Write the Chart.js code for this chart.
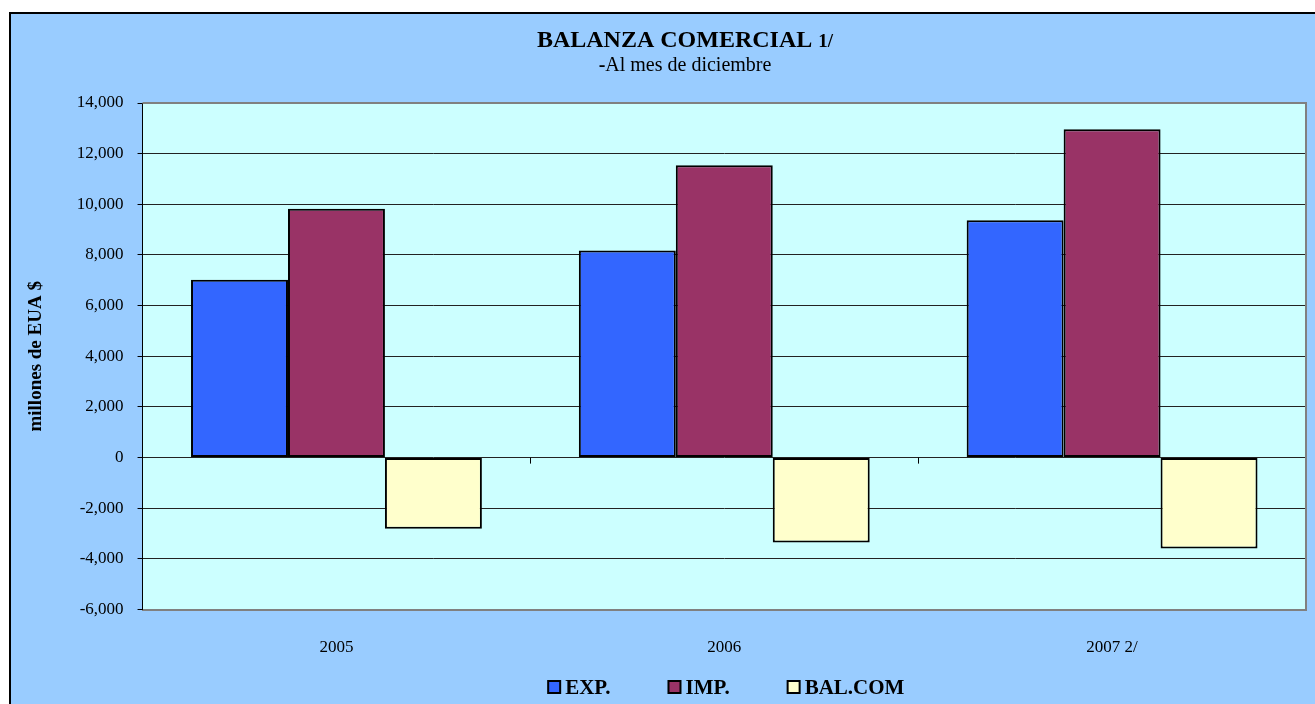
<!DOCTYPE html>
<html>
<head>
<meta charset="utf-8">
<script src="https://cdn.jsdelivr.net/npm/chart.js@4/dist/chart.umd.min.js"></script>
<style>
html,body{margin:0;padding:0;background:#fff;overflow:hidden;}
canvas{display:block;}
</style>
</head>
<body>
<canvas id="c" width="1315" height="704"></canvas>
<script>
const categories = ['2005', '2006', '2007 2/'];
const expValues = [7020, 8180, 9370];
const impValues = [9830, 11540, 12960];
const balValues = [-2810, -3350, -3590];
const seriesNames = ['EXP.', 'IMP.', 'BAL.COM'];
const yTicks = { min: -6000, max: 14000, step: 2000 };
const titleText = 'BALANZA COMERCIAL ';
const titleSuffix = '1/';
const subtitleDash = '-';
const subtitleText = 'Al mes de diciembre';
const yAxisTitle = 'millones de EUA $';

const SERIF = "'Liberation Serif', 'Times New Roman', serif";

const decorPlugin = {
  id: 'decor',
  beforeDraw(chart) {
    const ctx = chart.ctx;
    const a = chart.chartArea;
    ctx.save();
    ctx.fillStyle = '#ffffff';
    ctx.fillRect(0, 0, chart.width, chart.height);
    ctx.fillStyle = '#99CCFF';
    ctx.fillRect(10, 13, chart.width, chart.height);
    ctx.strokeStyle = '#000';
    ctx.lineWidth = 2;
    ctx.beginPath();
    ctx.moveTo(10, chart.height + 5);
    ctx.lineTo(10, 13);
    ctx.lineTo(chart.width + 5, 13);
    ctx.stroke();
    ctx.fillStyle = '#CCFFFF';
    ctx.fillRect(a.left, a.top, a.right - a.left, a.bottom - a.top);
    ctx.restore();
  },
  afterDatasetsDraw(chart) {
    const ctx = chart.ctx;
    const a = chart.chartArea;
    const x = chart.scales.x, y = chart.scales.y;
    ctx.save();
    ctx.strokeStyle = '#808080';
    ctx.lineWidth = 2;
    ctx.beginPath();
    ctx.moveTo(a.left, a.top);
    ctx.lineTo(a.right, a.top);
    ctx.lineTo(a.right, a.bottom);
    ctx.stroke();
    const y0 = y.getPixelForValue(0);
    ctx.strokeStyle = '#000';
    ctx.lineWidth = 1;
    ctx.beginPath();
    for (let i = 0; i < categories.length - 1; i++) {
      const xb = (x.getPixelForValue(i) + x.getPixelForValue(i + 1)) / 2;
      ctx.moveTo(Math.round(xb) + 0.5, y0);
      ctx.lineTo(Math.round(xb) + 0.5, y0 + 6);
    }
    ctx.stroke();
    ctx.restore();
  },
  afterDraw(chart) {
    const ctx = chart.ctx;
    const a = chart.chartArea;
    ctx.save();
    ctx.fillStyle = '#000';
    ctx.textBaseline = 'alphabetic';
    const f1 = 'bold 24px ' + SERIF, f2 = 'bold 19px ' + SERIF;
    ctx.font = f1; const w1 = ctx.measureText(titleText).width;
    ctx.font = f2; const w2 = ctx.measureText(titleSuffix).width;
    const tcx = 685;
    let tx = tcx - (w1 + w2) / 2;
    ctx.textAlign = 'left';
    ctx.font = f1; ctx.fillText(titleText, tx, 47);
    ctx.font = f2; ctx.fillText(titleSuffix, tx + w1, 47);
    const s1 = 'bold 20px ' + SERIF, s2 = '20px ' + SERIF;
    ctx.font = s1; const sw1 = ctx.measureText(subtitleDash).width;
    ctx.font = s2; const sw2 = ctx.measureText(subtitleText).width;
    let sx = tcx - (sw1 + sw2) / 2;
    ctx.font = s1; ctx.fillText(subtitleDash, sx, 71);
    ctx.font = s2; ctx.fillText(subtitleText, sx + sw1, 71);
    const lf = 'bold 21px ' + SERIF;
    ctx.font = lf;
    const box = 12, gapBT = 5, gapItems = 58;
    const widths = chart.data.datasets.map(d => ctx.measureText(d.label).width);
    const total = widths.reduce((s, w) => s + box + gapBT + w, 0) + gapItems * (widths.length - 1);
    let lx = (a.left + a.right) / 2 + 2 - total / 2;
    const ly = 694;
    chart.data.datasets.forEach((d, i) => {
      ctx.fillStyle = d.backgroundColor;
      ctx.fillRect(lx, ly - 13, box, box);
      ctx.strokeStyle = '#000';
      ctx.lineWidth = 2;
      ctx.strokeRect(lx, ly - 13, box, box);
      ctx.fillStyle = '#000';
      ctx.fillText(d.label, lx + box + gapBT, ly);
      lx += box + gapBT + widths[i] + gapItems;
    });
    ctx.restore();
  }
};

new Chart(document.getElementById('c'), {
  type: 'bar',
  data: {
    labels: categories,
    datasets: [
      { label: seriesNames[0], data: expValues, backgroundColor: '#3366FF' },
      { label: seriesNames[1], data: impValues, backgroundColor: '#993366' },
      { label: seriesNames[2], data: balValues, backgroundColor: '#FFFFCC' }
    ]
  },
  options: {
    responsive: false,
    animation: false,
    devicePixelRatio: 1,
    layout: { padding: { left: 21, right: 9, top: 103, bottom: 26 } },
    datasets: {
      bar: {
        categoryPercentage: 0.75,
        barPercentage: 1.0,
        borderColor: '#000',
        borderWidth: 2,
        borderSkipped: false
      }
    },
    plugins: {
      legend: { display: false },
      title: { display: false },
      tooltip: { enabled: false }
    },
    scales: {
      x: {
        grid: { display: false },
        border: { display: true, color: '#808080', width: 2 },
        ticks: { color: '#000', font: { family: SERIF, size: 17 }, padding: 20 }
      },
      y: {
        min: yTicks.min,
        max: yTicks.max,
        ticks: {
          stepSize: yTicks.step,
          color: '#000',
          font: { family: SERIF, size: 17 },
          padding: 14,
          callback: v => v.toLocaleString('en-US')
        },
        grid: { color: '#222', lineWidth: 1, tickLength: 5, tickColor: '#000' },
        border: { display: true, color: '#000', width: 1 },
        title: {
          display: true,
          text: yAxisTitle,
          color: '#000',
          font: { family: SERIF, size: 19, weight: 'bold' },
          padding: { top: 4, bottom: 15 }
        }
      }
    }
  },
  plugins: [decorPlugin]
});
</script>
</body>
</html>
